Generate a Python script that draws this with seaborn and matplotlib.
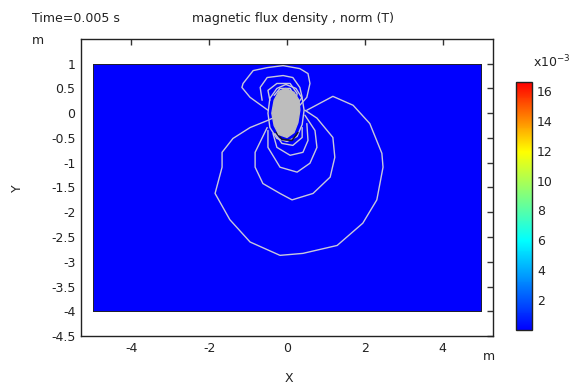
import numpy as np
import pandas as pd
import seaborn as sns
import matplotlib.pyplot as plt
from matplotlib.colors import LinearSegmentedColormap

# Domain and field range
domain_x = [-5.0, 5.0]
domain_y = [-4.0, 1.0]
background_B = 0.0
b_min, b_max = 0.0, 0.0166
cbar_ticks = [2, 4, 6, 8, 10, 12, 14, 16]

# Contour lines of |B| (m)
outer_x = [0.51, 1.18, 1.70, 2.13, 2.44, 2.47, 2.31, 1.95, 1.29, 0.41, -0.18, -0.95, -1.47, -1.85, -1.67, -1.67, -1.39, -0.95, -0.51, -0.31]
outer_y = [0.06, 0.34, 0.16, -0.21, -0.81, -1.09, -1.75, -2.22, -2.67, -2.83, -2.87, -2.60, -2.15, -1.62, -1.09, -0.79, -0.51, -0.29, -0.15, -0.08]
up1_x = [-0.49, -0.95, -1.16, -1.13, -0.87, -0.51, -0.10, 0.33, 0.54, 0.59, 0.51, 0.33]
up1_y = [0.06, 0.32, 0.52, 0.60, 0.86, 0.92, 0.96, 0.90, 0.80, 0.60, 0.32, 0.16]
up2_x = [-0.64, -0.69, -0.51, -0.10, 0.15, 0.33, 0.39, 0.28]
up2_y = [0.26, 0.52, 0.72, 0.76, 0.72, 0.52, 0.32, 0.20]
up3_x = [-0.44, -0.49, -0.26, 0.08, 0.26, 0.23]
up3_y = [0.26, 0.46, 0.60, 0.60, 0.40, 0.26]
up4_x = [-0.33, -0.18, 0.08, 0.18]
up4_y = [0.36, 0.50, 0.50, 0.36]
lowA_x = [-0.51, -0.82, -0.82, -0.62, -0.18, 0.13, 0.67, 1.11, 1.23, 1.18, 0.77, 0.46]
lowA_y = [-0.29, -0.79, -1.09, -1.42, -1.62, -1.75, -1.62, -1.29, -0.89, -0.49, -0.10, 0.06]
lowB_x = [-0.49, -0.49, -0.18, 0.26, 0.59, 0.77, 0.72, 0.46]
lowB_y = [-0.35, -0.69, -1.09, -1.19, -1.01, -0.69, -0.35, -0.04]
lowC_x = [-0.36, -0.26, 0.08, 0.41, 0.54, 0.51]
lowC_y = [-0.41, -0.69, -0.85, -0.79, -0.55, -0.21]
lowD_x = [-0.31, -0.13, 0.15, 0.39, 0.39]
lowD_y = [-0.41, -0.61, -0.65, -0.49, -0.29]
ring_x = [-0.03, 0.23, 0.39, 0.44, 0.39, 0.26, 0.0, -0.26, -0.44, -0.49, -0.44, -0.26, -0.03]
ring_y = [0.58, 0.50, 0.30, 0.06, -0.23, -0.47, -0.57, -0.51, -0.29, 0.0, 0.30, 0.50, 0.58]

# dark, densely packed levels just under the core
dark_x = [-0.28, -0.13, 0.13, 0.28]
dark_y = [-0.39, -0.53, -0.55, -0.39]

# saturated core (drawn gray)
core_x = [-0.03, 0.18, 0.31, 0.33, 0.28, 0.18, 0.0, -0.21, -0.33, -0.39, -0.33, -0.21]
core_y = [0.50, 0.42, 0.26, 0.06, -0.19, -0.39, -0.49, -0.43, -0.25, 0.0, 0.26, 0.44]

lines = {
    "outer": (outer_x, outer_y), "up1": (up1_x, up1_y), "up2": (up2_x, up2_y),
    "up3": (up3_x, up3_y), "up4": (up4_x, up4_y), "lowA": (lowA_x, lowA_y),
    "lowB": (lowB_x, lowB_y), "lowC": (lowC_x, lowC_y), "lowD": (lowD_x, lowD_y),
    "ring": (ring_x, ring_y),
}
contours = pd.concat(
    [pd.DataFrame({"x": xs, "y": ys, "line": name})
     for name, (xs, ys) in lines.items()],
    ignore_index=True,
)

sns.set_style("white")
plt.rcParams["font.family"] = ["DejaVu Sans"]
plt.rcParams["axes.unicode_minus"] = False

cmap = LinearSegmentedColormap.from_list(
    "comsol_rainbow",
    [(0.0, "#0000ff"), (0.36, "#00ffff"), (0.72, "#ffff00"), (1.0, "#ff0000")],
)

fig = plt.figure(figsize=(5.74, 3.85), dpi=100)
ax = fig.add_axes([0.141, 0.127, 0.718, 0.772])

mesh = ax.pcolormesh(domain_x, domain_y, [[background_B]], cmap=cmap,
                     vmin=b_min, vmax=b_max, edgecolor="#202030", linewidth=0.5)

sns.lineplot(data=contours, x="x", y="y", units="line", estimator=None, sort=False,
             color="#c8c8dc", linewidth=1.0, ax=ax, legend=False, zorder=4)
ax.plot(dark_x, dark_y, color="#151530", linewidth=1.2, zorder=4)
ax.fill(core_x, core_y, color="#bdbdbd", zorder=5)

ax.set_xlim(-5.3, 5.3)
ax.set_ylim(-4.5, 1.5)
ax.set_xticks([-4, -2, 0, 2, 4])
ax.set_yticks(np.arange(-4.5, 1.01, 0.5))
ax.set_yticklabels(["-4.5", "-4", "-3.5", "-3", "-2.5", "-2", "-1.5", "-1", "-0.5", "0", "0.5", "1"])
ax.tick_params(direction="in", length=4, width=1, top=True, right=True,
               labelsize=9, colors="#333333", labelcolor="#222222", pad=4)
for s in ax.spines.values():
    s.set_color("#222222")
    s.set_linewidth(1.0)
ax.set_xlabel("")
ax.set_ylabel("")

fig.text(0.503, 0.0, "X", ha="center", va="bottom", fontsize=9, color="#222222")
fig.text(0.031, 0.512, "Y", ha="center", va="center", rotation=90, fontsize=9, color="#222222")
fig.text(0.066, 0.895, "m", ha="center", va="center", fontsize=9, color="#222222")
fig.text(0.851, 0.075, "m", ha="center", va="center", fontsize=9, color="#222222")
fig.text(0.056, 0.953, "Time=0.005 s", ha="left", va="center", fontsize=9, color="#222222")
fig.text(0.51, 0.953, "magnetic flux density , norm (T)", ha="center", va="center",
         fontsize=9, color="#222222")

cax = fig.add_axes([0.899, 0.143, 0.028, 0.644])
cb = fig.colorbar(mesh, cax=cax)
cb.set_ticks([t * 1e-3 for t in cbar_ticks])
cb.set_ticklabels([str(t) for t in cbar_ticks])
cax.tick_params(direction="in", length=3, width=1, left=True, right=True,
                labelsize=9, colors="#333333", labelcolor="#222222")
cb.outline.set_edgecolor("#222222")
cb.outline.set_linewidth(1.0)
fig.text(0.962, 0.838, "x10$^{-3}$", ha="center", va="center", fontsize=9, color="#222222")

fig.savefig("out.png", dpi=100)
